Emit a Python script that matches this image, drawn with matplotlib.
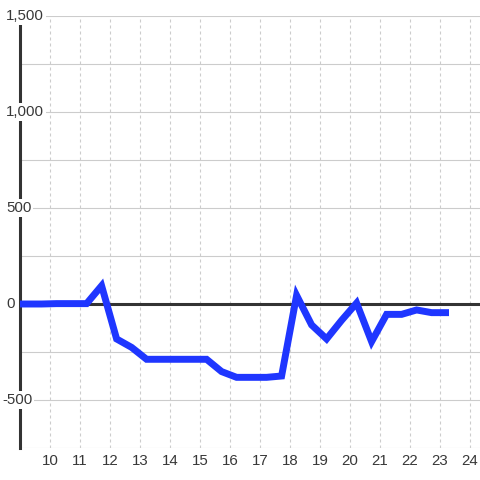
import matplotlib
matplotlib.use("Agg")
import matplotlib.pyplot as plt  # noqa: E402

# series
hours = [8.72, 9.22, 9.72, 10.22, 10.72, 11.22, 11.72, 12.22, 12.72, 13.22,
         13.72, 14.22, 14.72, 15.22, 15.72, 16.22, 16.72, 17.22, 17.72, 18.22,
         18.72, 19.22, 19.72, 20.22, 20.72, 21.22, 21.72, 22.22, 22.72, 23.3]
values = [0, 0, 0, 2, 2, 2, 95, -182, -226, -288,
          -288, -288, -288, -288, -352, -382, -382, -382, -375, 45,
          -109, -182, -85, 5, -196, -54, -54, -31, -45, -45]

x_ticks = list(range(10, 25))
y_grid = [-750, -500, -250, 0, 250, 500, 750, 1000, 1250, 1500]
y_labels = {1500: "1,500", 1000: "1,000", 500: "500", 0: "0", -500: "-500"}

plt.rcParams["font.family"] = ["Liberation Sans", "DejaVu Sans"]

fig = plt.figure(figsize=(4.8, 4.8), dpi=100)
ax = fig.add_axes([20 / 480, 32 / 480, 460 / 480, 432 / 480])
ax.set_xlim(9.0, 9.0 + 460 / 30)
ax.set_ylim(-750, 1500)

for s in ("top", "right", "bottom"):
    ax.spines[s].set_visible(False)
ax.spines["left"].set_color("#333333")
ax.spines["left"].set_linewidth(2.2)

ax.set_yticks(y_grid)
ax.set_yticklabels([])
ax.tick_params(axis="y", length=0)
ax.set_xticks(x_ticks)
ax.tick_params(axis="x", length=0, pad=4, labelsize=10.8, labelcolor="#383838")
ax.grid(axis="y", color="#cccccc", linewidth=0.8)
ax.grid(axis="x", color="#cccccc", linewidth=0.8, linestyle=(0, (2.7, 2.7)))
ax.set_axisbelow(True)

ax.axhline(0, color="#333333", linewidth=2.2, zorder=2)
ax.plot(hours, values, color="#1f36ff", linewidth=5, zorder=3,
        solid_joinstyle="miter", solid_capstyle="butt")

for v, lab in y_labels.items():
    px = 2 if lab.startswith("-") else 6
    ax.text((px - 20) / 460, v, lab, transform=ax.get_yaxis_transform(),
            ha="left", va="center", fontsize=10.8, color="#383838", zorder=6,
            clip_on=False, bbox=dict(fc="white", ec="none", pad=1.5))

fig.savefig("out.png", dpi=100, facecolor="white")
